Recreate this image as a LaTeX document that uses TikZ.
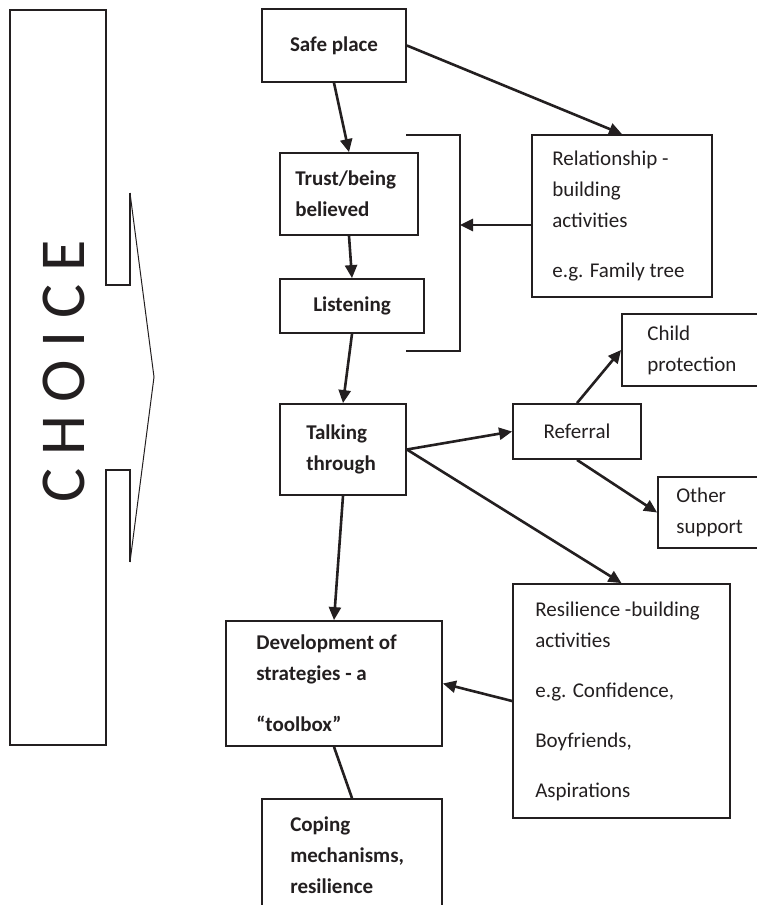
\documentclass[tikz,border=0pt]{standalone}
\usepackage{fontspec}
\setmainfont{Carlito}
\usetikzlibrary{arrows.meta, positioning}
\definecolor{inkblack}{HTML}{231F20}
\tikzset{
	boxnode/.style={
			shape=rectangle,
			draw=inkblack,
			line width=1.8pt,
			inner sep=0pt
		},
	plaintext/.style={
			inner sep=0pt,
			align=left,
			text=inkblack,
			font=\fontsize{21}{31}\selectfont
		},
	boldtext/.style={
			plaintext,
			font=\fontsize{21}{31}\selectfont\bfseries
		},
	flowarrow/.style={
			draw=inkblack,
			line width=2.6pt,
			-{Triangle[length=13pt,width=12pt]}
		}
}

\begin{document}
\begin{tikzpicture}[x=1pt, y=-1pt]

  \useasboundingbox (0,0) rectangle (757,905);
  \clip (0,0) rectangle (757,905);

  % big CHOICE arrow on the left
  \draw[inkblack, line width=1.7pt] (130,193) -- (130,285) -- (106,285) -- (106,10) -- (10,10)
    -- (10,745) -- (106,745) -- (106,470) -- (130,470) -- (130,562);
  \draw[inkblack, line width=1pt] (130,193) -- (154,377) -- (130,562);
  \node[rotate=90, inner sep=0pt, text=inkblack, font=\fontsize{64}{64}\selectfont] (choice) at (63.5,371.5)
    {C\hspace{13pt}H\hspace{13pt}O\hspace{13pt}I\hspace{13pt}C\hspace{13pt}E};

  % boxes
  \node[boxnode, minimum width=144pt, minimum height=73pt] (safe) at (334,45.5) {};
  \node[boxnode, minimum width=138pt, minimum height=82pt] (trust) at (349,194) {};
  \node[boxnode, minimum width=144pt, minimum height=54pt] (listen) at (352,306) {};
  \node[boxnode, minimum width=180pt, minimum height=162pt] (rel) at (622,216) {};
  \node[boxnode, minimum width=148pt, minimum height=72pt] (child) at (696,350) {};
  \node[boxnode, minimum width=126pt, minimum height=91pt] (talk) at (343,449.5) {};
  \node[boxnode, minimum width=128pt, minimum height=55pt] (ref) at (577,431.5) {};
  \node[boxnode, minimum width=112pt, minimum height=71pt] (other) at (714,512.5) {};
  \node[boxnode, minimum width=216pt, minimum height=125pt] (dev) at (334,683.5) {};
  \node[boxnode, minimum width=217pt, minimum height=234pt] (res) at (621.5,701) {};
  \node[boxnode, minimum width=180pt, minimum height=112pt] (cope) at (352,855) {};

  % texts
  \node[boldtext] (safetext) at (safe) {Safe place};
  \node[boldtext, right=16pt of trust.west] (trusttext) {Trust/being\\believed};
  \node[boldtext] (listentext) at (listen) {Listening};
  \node[plaintext, right=21pt of rel.west] (reltext) {Relationship -\\building\\activities\\[19pt]e.g. Family tree};
  \node[plaintext, right=26pt of child.west] (childtext) {Child\\protection};
  \node[boldtext, right=27pt of talk.west] (talktext) {Talking\\through};
  \node[plaintext] (reftext) at (ref) {Referral};
  \node[plaintext, right=19pt of other.west] (othertext) {Other\\support};
  \node[boldtext, right=31pt of dev.west] (devtext) {Development of\\strategies - a\\[20pt]“toolbox”};
  \node[plaintext, right=23pt of res.west] (restext) {Resilience -building\\activities\\[19pt]e.g. Confidence,\\[19pt]Boyfriends,\\[19pt]Aspirations};
  \node[boldtext, right=29pt of cope.west] (copetext) {Coping\\mechanisms,\\resilience};

  % bracket round trust and listening
  \coordinate (brtop) at (406,135);
  \coordinate (brbot) at (406,351);
  \coordinate (brmid) at (460,225);
  \draw[inkblack, line width=1.8pt] (brtop) -- (brmid |- brtop) -- (brmid |- brbot) -- (brbot);

  % connectors
  \draw[flowarrow] (safe.east) -- (rel.north);
  \draw[flowarrow] (safe.south) -- (trust.north);
  \draw[flowarrow] (trust.south) -- (listen.north);
  \draw[flowarrow] (rel.west |- brmid) -- (brmid);
  \draw[flowarrow] (listen.south) -- (talk.north);
  \draw[flowarrow] (talk.east) -- (ref.west);
  \draw[flowarrow] (ref.north) -- (child.west);
  \draw[flowarrow] (ref.south) -- (other.west);
  \draw[flowarrow] (talk.east) -- (res.north);
  \draw[flowarrow] (talk.south) -- (dev.north);
  \draw[flowarrow] (res.west) -- (dev.east);
  \draw[inkblack, line width=2.6pt] (dev.south) -- (cope.north);

\end{tikzpicture}
\end{document}
